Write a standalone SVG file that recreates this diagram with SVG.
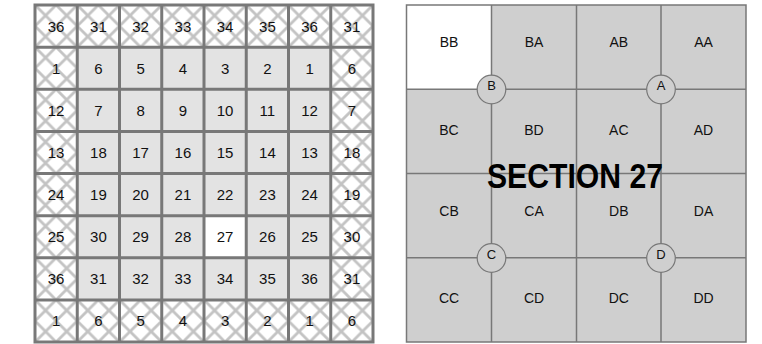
<svg xmlns="http://www.w3.org/2000/svg" width="762" height="344" viewBox="0 0 762 344">
<defs>
<pattern id="hatch" patternUnits="userSpaceOnUse" x="35" y="5" width="21.125" height="21.0625">
<rect width="21.125" height="21.0625" fill="#ffffff"/>
<path d="M-3,-3 L24.1,24.06 M24.1,-3 L-3,24.06" stroke="#c3c3c3" stroke-width="2.8"/>
</pattern>
<style>
.n{font-family:"Liberation Sans",Arial,sans-serif;font-size:15px;fill:#111;text-anchor:middle}
.g{stroke:#787878;stroke-width:3;fill:none}
.s{font-family:"Liberation Sans",Arial,sans-serif;font-size:14px;fill:#111;text-anchor:middle}
.c{font-family:"Liberation Sans",Arial,sans-serif;font-size:13px;fill:#111;text-anchor:middle}
.sl{stroke:#787878;stroke-width:1.5;fill:none}
.ci{fill:#cfcfcf;stroke:#787878;stroke-width:1.2}
</style>
</defs>
<rect width="762" height="344" fill="#ffffff"/>

<g id="township">
<rect x="35" y="5" width="338" height="337" fill="url(#hatch)"/>
<rect x="77.25" y="47.125" width="253.5" height="252.75" fill="#e3e3e3"/>
<rect x="204" y="215.625" width="42.25" height="42.125" fill="#ffffff"/>
<path class="g" d="M35,5 H373 V342 H35 Z M77.25,5 V342 M119.5,5 V342 M161.75,5 V342 M204,5 V342 M246.25,5 V342 M288.5,5 V342 M330.75,5 V342 M35,47.125 H373 M35,89.25 H373 M35,131.375 H373 M35,173.5 H373 M35,215.625 H373 M35,257.75 H373 M35,299.875 H373"/>
<g id="row1"><text class="n" x="56.1" y="31.5">36</text><text class="n" x="98.4" y="31.5">31</text><text class="n" x="140.6" y="31.5">32</text><text class="n" x="182.9" y="31.5">33</text><text class="n" x="225.1" y="31.5">34</text><text class="n" x="267.4" y="31.5">35</text><text class="n" x="309.6" y="31.5">36</text><text class="n" x="351.9" y="31.5">31</text></g>
<g id="row2"><text class="n" x="56.1" y="73.5">1</text><text class="n" x="98.4" y="73.5">6</text><text class="n" x="140.6" y="73.5">5</text><text class="n" x="182.9" y="73.5">4</text><text class="n" x="225.1" y="73.5">3</text><text class="n" x="267.4" y="73.5">2</text><text class="n" x="309.6" y="73.5">1</text><text class="n" x="351.9" y="73.5">6</text></g>
<g id="row3"><text class="n" x="56.1" y="115.5">12</text><text class="n" x="98.4" y="115.5">7</text><text class="n" x="140.6" y="115.5">8</text><text class="n" x="182.9" y="115.5">9</text><text class="n" x="225.1" y="115.5">10</text><text class="n" x="267.4" y="115.5">11</text><text class="n" x="309.6" y="115.5">12</text><text class="n" x="351.9" y="115.5">7</text></g>
<g id="row4"><text class="n" x="56.1" y="157.5">13</text><text class="n" x="98.4" y="157.5">18</text><text class="n" x="140.6" y="157.5">17</text><text class="n" x="182.9" y="157.5">16</text><text class="n" x="225.1" y="157.5">15</text><text class="n" x="267.4" y="157.5">14</text><text class="n" x="309.6" y="157.5">13</text><text class="n" x="351.9" y="157.5">18</text></g>
<g id="row5"><text class="n" x="56.1" y="200">24</text><text class="n" x="98.4" y="200">19</text><text class="n" x="140.6" y="200">20</text><text class="n" x="182.9" y="200">21</text><text class="n" x="225.1" y="200">22</text><text class="n" x="267.4" y="200">23</text><text class="n" x="309.6" y="200">24</text><text class="n" x="351.9" y="200">19</text></g>
<g id="row6"><text class="n" x="56.1" y="242">25</text><text class="n" x="98.4" y="242">30</text><text class="n" x="140.6" y="242">29</text><text class="n" x="182.9" y="242">28</text><text class="n" x="225.1" y="242">27</text><text class="n" x="267.4" y="242">26</text><text class="n" x="309.6" y="242">25</text><text class="n" x="351.9" y="242">30</text></g>
<g id="row7"><text class="n" x="56.1" y="284">36</text><text class="n" x="98.4" y="284">31</text><text class="n" x="140.6" y="284">32</text><text class="n" x="182.9" y="284">33</text><text class="n" x="225.1" y="284">34</text><text class="n" x="267.4" y="284">35</text><text class="n" x="309.6" y="284">36</text><text class="n" x="351.9" y="284">31</text></g>
<g id="row8"><text class="n" x="56.1" y="326">1</text><text class="n" x="98.4" y="326">6</text><text class="n" x="140.6" y="326">5</text><text class="n" x="182.9" y="326">4</text><text class="n" x="225.1" y="326">3</text><text class="n" x="267.4" y="326">2</text><text class="n" x="309.6" y="326">1</text><text class="n" x="351.9" y="326">6</text></g>
</g>

<g id="section">
<rect x="406.5" y="5" width="339.5" height="337" fill="#cfcfcf"/>
<rect x="406.5" y="5" width="85" height="84.25" fill="#ffffff"/>
<path class="sl" d="M406.5,5 H746 V342 H406.5 Z M491.5,5 V342 M576.5,5 V342 M661,5 V342 M406.5,89.25 H746 M406.5,173.5 H746 M406.5,257.75 H746"/>
<g id="q-BB"><text class="s" x="449" y="47">BB</text></g>
<g id="q-BA"><text class="s" x="534" y="47">BA</text></g>
<g id="q-AB"><text class="s" x="618.8" y="47">AB</text></g>
<g id="q-AA"><text class="s" x="703.5" y="47">AA</text></g>
<g id="q-BC"><text class="s" x="449" y="135">BC</text></g>
<g id="q-BD"><text class="s" x="534" y="135">BD</text></g>
<g id="q-AC"><text class="s" x="618.8" y="135">AC</text></g>
<g id="q-AD"><text class="s" x="703.5" y="135">AD</text></g>
<g id="q-CB"><text class="s" x="449" y="216">CB</text></g>
<g id="q-CA"><text class="s" x="534" y="216">CA</text></g>
<g id="q-DB"><text class="s" x="618.8" y="216">DB</text></g>
<g id="q-DA"><text class="s" x="703.5" y="216">DA</text></g>
<g id="q-CC"><text class="s" x="449" y="303">CC</text></g>
<g id="q-CD"><text class="s" x="534" y="303">CD</text></g>
<g id="q-DC"><text class="s" x="618.8" y="303">DC</text></g>
<g id="q-DD"><text class="s" x="703.5" y="303">DD</text></g>
<g id="corner-B"><circle class="ci" cx="491.5" cy="89.5" r="14.3"/><text class="c" x="491.5" y="90">B</text></g>
<g id="corner-A"><circle class="ci" cx="661" cy="89.5" r="14.3"/><text class="c" x="661" y="90">A</text></g>
<g id="corner-C"><circle class="ci" cx="491.5" cy="258" r="14.3"/><text class="c" x="491.5" y="258.5">C</text></g>
<g id="corner-D"><circle class="ci" cx="661" cy="258" r="14.3"/><text class="c" x="661" y="258.5">D</text></g>
<text x="575" y="188" font-family="'Liberation Sans',Arial,sans-serif" font-weight="bold" font-size="35" fill="#000" text-anchor="middle" textLength="176" lengthAdjust="spacingAndGlyphs">SECTION 27</text>
</g>
</svg>
